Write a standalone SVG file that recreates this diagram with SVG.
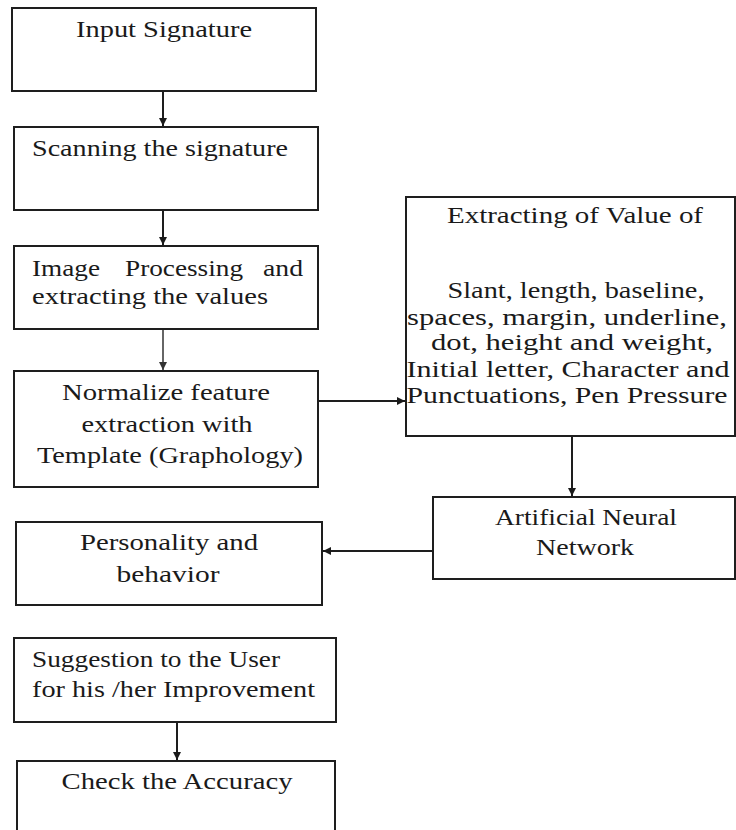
<svg xmlns="http://www.w3.org/2000/svg" width="736" height="830" viewBox="0 0 736 830">
<defs>
<marker id="ah" viewBox="0 0 10 10" refX="10" refY="5" markerWidth="4" markerHeight="4" orient="auto" markerUnits="strokeWidth">
<path d="M0,0 L10,5 L0,10 z" fill="#1a1a1a"/>
</marker>
<marker id="ahg" viewBox="0 0 10 10" refX="10" refY="5" markerWidth="4" markerHeight="4" orient="auto" markerUnits="strokeWidth">
<path d="M0,0 L10,5 L0,10 z" fill="#333"/>
</marker>
<style>
.box{fill:#fff;stroke:#1e1e1e;stroke-width:2}
.t{font-family:"Liberation Serif","Times New Roman",serif;font-size:24px;fill:#1a1a1a}
.c{text-anchor:middle}
.con{stroke:#1e1e1e;stroke-width:2;fill:none}
</style>
</defs>
<rect width="736" height="830" fill="#fff"/>
<g id="connectors">
<line class="con" x1="163" y1="91" x2="163" y2="126" marker-end="url(#ah)"/>
<line class="con" x1="163" y1="210" x2="163" y2="245" marker-end="url(#ah)"/>
<line class="con" x1="163" y1="329" x2="163" y2="370" style="stroke:#666" marker-end="url(#ahg)"/>
<line class="con" x1="318" y1="401" x2="405" y2="401" marker-end="url(#ah)"/>
<line class="con" x1="572" y1="436" x2="572" y2="496" marker-end="url(#ah)"/>
<line class="con" x1="433" y1="551" x2="323" y2="551" marker-end="url(#ah)"/>
<line class="con" x1="177" y1="722" x2="177" y2="760" marker-end="url(#ah)"/>
</g>
<g id="input">
<rect class="box" x="12" y="8" width="304" height="83"/>
<text class="t c" x="164" y="37" textLength="176" lengthAdjust="spacingAndGlyphs">Input Signature</text>
</g>
<g id="scanning">
<rect class="box" x="14" y="127" width="304" height="83"/>
<text class="t" x="32" y="156" textLength="256" lengthAdjust="spacingAndGlyphs">Scanning the signature</text>
</g>
<g id="imageproc">
<rect class="box" x="14" y="246" width="304" height="83"/>
<text class="t" y="276"><tspan x="32" textLength="68" lengthAdjust="spacingAndGlyphs">Image</tspan> <tspan x="125" textLength="118" lengthAdjust="spacingAndGlyphs">Processing</tspan> <tspan x="263" textLength="40" lengthAdjust="spacingAndGlyphs">and</tspan></text>
<text class="t" x="32" y="304" textLength="236" lengthAdjust="spacingAndGlyphs">extracting the values</text>
</g>
<g id="normalize">
<rect class="box" x="14" y="371" width="304" height="116"/>
<text class="t c" x="166" y="400" textLength="208" lengthAdjust="spacingAndGlyphs">Normalize feature</text>
<text class="t c" x="167" y="432" textLength="171" lengthAdjust="spacingAndGlyphs">extraction with</text>
<text class="t c" x="170" y="463" textLength="266" lengthAdjust="spacingAndGlyphs">Template (Graphology)</text>
</g>
<g id="extracting">
<rect class="box" x="406" y="197" width="329" height="239"/>
<text class="t c" x="575" y="223" textLength="256" lengthAdjust="spacingAndGlyphs">Extracting of Value of</text>
<text class="t c" x="576" y="298" textLength="257" lengthAdjust="spacingAndGlyphs">Slant, length, baseline,</text>
<text class="t c" x="567" y="325" textLength="320" lengthAdjust="spacingAndGlyphs">spaces, margin, underline,</text>
<text class="t c" x="572" y="350" textLength="282" lengthAdjust="spacingAndGlyphs">dot, height and weight,</text>
<text class="t c" x="568" y="377" textLength="323" lengthAdjust="spacingAndGlyphs">Initial letter, Character and</text>
<text class="t c" x="567" y="403" textLength="321" lengthAdjust="spacingAndGlyphs">Punctuations, Pen Pressure</text>
</g>
<g id="ann">
<rect class="box" x="433" y="497" width="302" height="82"/>
<text class="t c" x="586" y="525" textLength="182" lengthAdjust="spacingAndGlyphs">Artificial Neural</text>
<text class="t c" x="585" y="555" textLength="98" lengthAdjust="spacingAndGlyphs">Network</text>
</g>
<g id="personality">
<rect class="box" x="16" y="522" width="306" height="83"/>
<text class="t c" x="169" y="550" textLength="178" lengthAdjust="spacingAndGlyphs">Personality and</text>
<text class="t c" x="168" y="582" textLength="103" lengthAdjust="spacingAndGlyphs">behavior</text>
</g>
<g id="suggestion">
<rect class="box" x="14" y="638" width="322" height="84"/>
<text class="t" x="32" y="667" textLength="248" lengthAdjust="spacingAndGlyphs">Suggestion to the User</text>
<text class="t" x="32" y="697" textLength="283" lengthAdjust="spacingAndGlyphs">for his /her Improvement</text>
</g>
<g id="accuracy">
<rect class="box" x="17" y="761" width="318" height="80"/>
<text class="t c" x="177" y="789" textLength="231" lengthAdjust="spacingAndGlyphs">Check the Accuracy</text>
</g>
</svg>
